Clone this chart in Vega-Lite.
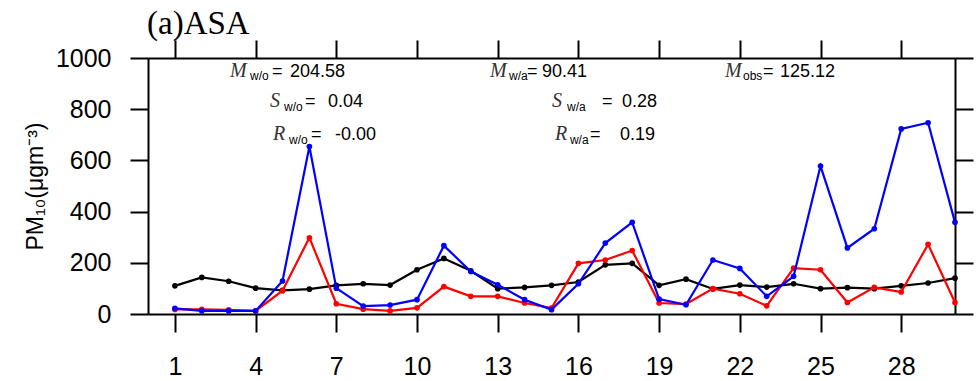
{
  "$schema": "https://vega.github.io/schema/vega-lite/v6.json",
  "width": 807,
  "height": 256,
  "autosize": {"type": "none"},
  "padding": {"left": 148, "top": 58, "right": 23, "bottom": 67},
  "background": "white",
  "title": {"text": "(a)ASA", "font": "Liberation Serif", "fontSize": 33, "fontWeight": "normal", "color": "black", "anchor": "start", "orient": "top", "frame": "group", "baseline": "alphabetic", "offset": -28, "dx": -1},
  "config": {
    "view": {"stroke": null},
    "axis": {"grid": false, "domainColor": "black", "domainWidth": 2, "tickColor": "black", "tickWidth": 2, "tickSize": 18, "labelFont": "Liberation Sans", "labelFontSize": 25, "labelColor": "black", "titleFont": "Liberation Sans", "titleColor": "black"}
  },
  "resolve": {"axis": {"x": "independent", "y": "independent"}},
  "layer": [
    {
      "data": {"name": "series", "values": [
        {"day": 1, "obs": 110, "wo": 22, "wa": 18},
        {"day": 2, "obs": 143, "wo": 12, "wa": 18},
        {"day": 3, "obs": 128, "wo": 12, "wa": 16},
        {"day": 4, "obs": 101, "wo": 12, "wa": 12},
        {"day": 5, "obs": 92, "wo": 129, "wa": 91},
        {"day": 6, "obs": 97, "wo": 654, "wa": 298},
        {"day": 7, "obs": 112, "wo": 101, "wa": 40},
        {"day": 8, "obs": 118, "wo": 31, "wa": 19},
        {"day": 9, "obs": 113, "wo": 35, "wa": 12},
        {"day": 10, "obs": 173, "wo": 56, "wa": 24},
        {"day": 11, "obs": 217, "wo": 267, "wa": 107},
        {"day": 12, "obs": 169, "wo": 166, "wa": 69},
        {"day": 13, "obs": 99, "wo": 114, "wa": 69},
        {"day": 14, "obs": 104, "wo": 56, "wa": 43},
        {"day": 15, "obs": 112, "wo": 17, "wa": 23},
        {"day": 16, "obs": 125, "wo": 118, "wa": 198},
        {"day": 17, "obs": 192, "wo": 277, "wa": 211},
        {"day": 18, "obs": 198, "wo": 358, "wa": 248},
        {"day": 19, "obs": 112, "wo": 58, "wa": 43},
        {"day": 20, "obs": 136, "wo": 36, "wa": 39},
        {"day": 21, "obs": 98, "wo": 211, "wa": 99},
        {"day": 22, "obs": 113, "wo": 178, "wa": 79},
        {"day": 23, "obs": 105, "wo": 69, "wa": 32},
        {"day": 24, "obs": 118, "wo": 147, "wa": 179},
        {"day": 25, "obs": 99, "wo": 578, "wa": 173},
        {"day": 26, "obs": 103, "wo": 258, "wa": 45},
        {"day": 27, "obs": 99, "wo": 333, "wa": 104},
        {"day": 28, "obs": 110, "wo": 723, "wa": 86},
        {"day": 29, "obs": 121, "wo": 747, "wa": 272},
        {"day": 30, "obs": 140, "wo": 358, "wa": 45}
      ]},
      "mark": {"type": "line", "color": "black", "strokeWidth": 2.2, "point": {"filled": true, "color": "black", "size": 32}},
      "encoding": {
        "x": {"field": "day", "type": "quantitative", "scale": {"domain": [0, 30], "nice": false, "zero": false}, "axis": {"orient": "bottom", "values": [1, 4, 7, 10, 13, 16, 19, 22, 25, 28], "title": null, "labelPadding": 22, "labelFlush": false}},
        "y": {"field": "obs", "type": "quantitative", "scale": {"domain": [0, 1000], "nice": false}, "axis": {"orient": "left", "values": [0, 200, 400, 600, 800, 1000], "format": "d", "labelPadding": 19, "title": "PM₁₀(μgm⁻³)", "titleFontSize": 23, "titleFontWeight": "normal", "titlePadding": 8}}
      }
    },
    {
      "data": {"name": "series"},
      "mark": {"type": "line", "color": "#ff0000", "strokeWidth": 2.2, "point": {"filled": true, "color": "#ff0000", "size": 32}},
      "encoding": {
        "x": {"field": "day", "type": "quantitative", "axis": {"orient": "top", "values": [1, 4, 7, 10, 13, 16, 19, 22, 25, 28], "labels": false, "title": null}},
        "y": {"field": "wa", "type": "quantitative", "axis": {"orient": "right", "values": [0, 200, 400, 600, 800, 1000], "labels": false, "title": null}}
      }
    },
    {
      "data": {"name": "series"},
      "mark": {"type": "line", "color": "#0000ff", "strokeWidth": 2.2, "point": {"filled": true, "color": "#0000ff", "size": 32}},
      "encoding": {
        "x": {"field": "day", "type": "quantitative", "axis": null},
        "y": {"field": "wo", "type": "quantitative", "axis": null}
      }
    },
    {
      "data": {"values": [
        {"x": 3.048, "y": 925.8, "t": "M"},
        {"x": 4.535, "y": 808.6, "t": "S"},
        {"x": 4.647, "y": 679.7, "t": "R"},
        {"x": 12.714, "y": 925.8, "t": "M"},
        {"x": 15.019, "y": 808.6, "t": "S"},
        {"x": 15.13, "y": 679.7, "t": "R"},
        {"x": 21.45, "y": 925.8, "t": "M"}
      ]},
      "mark": {"type": "text", "align": "left", "baseline": "alphabetic", "font": "Liberation Serif", "fontStyle": "italic", "fontSize": 20, "color": "#333333"},
      "encoding": {
        "x": {"field": "x", "type": "quantitative", "axis": null},
        "y": {"field": "y", "type": "quantitative", "axis": null},
        "text": {"field": "t"}
      }
    },
    {
      "data": {"values": [
        {"x": 3.792, "y": 914, "t": "w/o"},
        {"x": 5.056, "y": 793, "t": "w/o"},
        {"x": 5.242, "y": 666, "t": "w/o"},
        {"x": 13.42, "y": 914, "t": "w/a"},
        {"x": 15.576, "y": 793, "t": "w/a"},
        {"x": 15.684, "y": 666, "t": "w/a"},
        {"x": 22.119, "y": 914, "t": "obs"}
      ]},
      "mark": {"type": "text", "align": "left", "baseline": "alphabetic", "font": "Liberation Sans", "fontSize": 12, "color": "black"},
      "encoding": {
        "x": {"field": "x", "type": "quantitative", "axis": null},
        "y": {"field": "y", "type": "quantitative", "axis": null},
        "text": {"field": "t"}
      }
    },
    {
      "data": {"values": [
        {"x": 4.61, "y": 925.8, "t": "="},
        {"x": 5.279, "y": 925.8, "t": "204.58"},
        {"x": 5.836, "y": 808.6, "t": "="},
        {"x": 6.691, "y": 808.6, "t": "0.04"},
        {"x": 6.059, "y": 679.7, "t": "="},
        {"x": 6.952, "y": 679.7, "t": "-0.00"},
        {"x": 14.089, "y": 925.8, "t": "="},
        {"x": 14.647, "y": 925.8, "t": "90.41"},
        {"x": 16.877, "y": 808.6, "t": "="},
        {"x": 17.621, "y": 808.6, "t": "0.28"},
        {"x": 16.431, "y": 679.7, "t": "="},
        {"x": 17.546, "y": 679.7, "t": "0.19"},
        {"x": 22.862, "y": 925.8, "t": "="},
        {"x": 23.494, "y": 925.8, "t": "125.12"}
      ]},
      "mark": {"type": "text", "align": "left", "baseline": "alphabetic", "font": "Liberation Sans", "fontSize": 18, "color": "black"},
      "encoding": {
        "x": {"field": "x", "type": "quantitative", "axis": null},
        "y": {"field": "y", "type": "quantitative", "axis": null},
        "text": {"field": "t"}
      }
    }
  ]
}
